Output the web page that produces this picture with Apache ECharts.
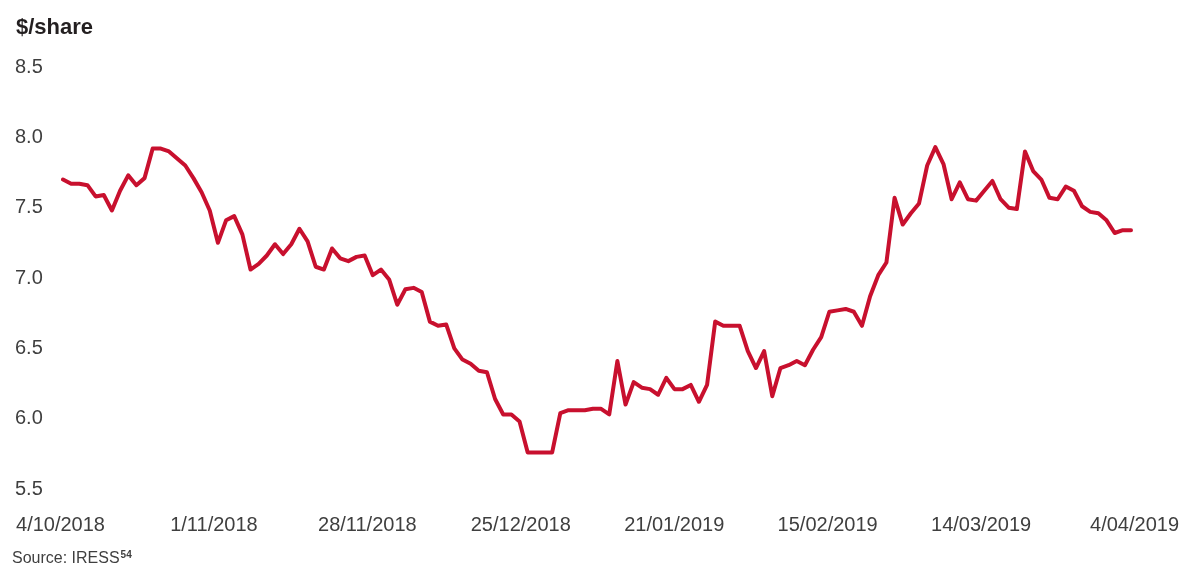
<!DOCTYPE html>
<html>
<head>
<meta charset="utf-8">
<script src="https://cdn.jsdelivr.net/npm/echarts@6/dist/echarts.min.js"></script>
<style>
html,body{margin:0;padding:0;background:#fff;}
#chart{width:1182px;height:566px;}
</style>
</head>
<body>
<div id="chart"></div>
<script>
// Trading-day index categories (one per observation)
const priceValues = [
  7.70, 7.67, 7.67, 7.66, 7.58, 7.59, 7.48, 7.62, 7.73, 7.66,
  7.71, 7.92, 7.92, 7.90, 7.85, 7.80, 7.71, 7.61, 7.48, 7.25,
  7.41, 7.44, 7.31, 7.06, 7.10, 7.16, 7.24, 7.17, 7.24, 7.35,
  7.26, 7.08, 7.06, 7.21, 7.14, 7.12, 7.15, 7.16, 7.02, 7.06,
  6.99, 6.81, 6.92, 6.93, 6.90, 6.69, 6.66, 6.67, 6.50, 6.42,
  6.39, 6.34, 6.33, 6.14, 6.03, 6.03, 5.98, 5.76, 5.76, 5.76,
  5.76, 6.04, 6.06, 6.06, 6.06, 6.07, 6.07, 6.03, 6.41, 6.10,
  6.26, 6.22, 6.21, 6.17, 6.29, 6.21, 6.21, 6.24, 6.12, 6.24,
  6.69, 6.66, 6.66, 6.66, 6.48, 6.36, 6.48, 6.16, 6.36, 6.38,
  6.41, 6.38, 6.49, 6.58, 6.76, 6.77, 6.78, 6.76, 6.66, 6.87,
  7.02, 7.11, 7.57, 7.38, 7.46, 7.53, 7.80, 7.93, 7.81, 7.56,
  7.68, 7.56, 7.55, 7.62, 7.69, 7.56, 7.50, 7.49, 7.90, 7.76,
  7.70, 7.57, 7.56, 7.65, 7.62, 7.51, 7.47, 7.46, 7.41, 7.32,
  7.34, 7.34
];
const dayIndex = priceValues.map((_, i) => String(i));
const dateTickLabels = ['4/10/2018', '1/11/2018', '28/11/2018', '25/12/2018', '21/01/2019', '15/02/2019', '14/03/2019', '4/04/2019'];
const yMin = 5.5, yMax = 8.5, yStep = 0.5;
const yAxisTitle = '$/share';
const sourceText = 'Source: IRESS';
const sourceNoteRef = '54';

const chart = echarts.init(document.getElementById('chart'), null, {renderer: 'canvas'});
const labelColor = '#3f3f3f';
const option = {
  animation: false,
  backgroundColor: '#ffffff',
  grid: [
    {left: 63, right: 51, top: 67, bottom: 77},
    {left: 60.5, right: 47, top: 67, bottom: 77}
  ],
  xAxis: [
    {
      type: 'category', gridIndex: 0, data: dayIndex, boundaryGap: false,
      axisLine: {show: false}, axisTick: {show: false}, axisLabel: {show: false}, splitLine: {show: false}
    },
    {
      type: 'category', gridIndex: 1, data: dateTickLabels, boundaryGap: false,
      axisLine: {show: false}, axisTick: {show: false}, splitLine: {show: false},
      axisLabel: {interval: 0, margin: 26, fontSize: 20, fontFamily: 'Liberation Sans, Arial, sans-serif', color: labelColor}
    }
  ],
  yAxis: [
    {
      type: 'value', gridIndex: 0, min: yMin, max: yMax, interval: yStep,
      axisLine: {show: false}, axisTick: {show: false}, splitLine: {show: false},
      axisLabel: {
        align: 'left', margin: 48, fontSize: 20, fontFamily: 'Liberation Sans, Arial, sans-serif', color: labelColor,
        formatter: v => v.toFixed(1)
      }
    },
    {type: 'value', gridIndex: 1, min: yMin, max: yMax, show: false}
  ],
  series: [{
    type: 'line', xAxisIndex: 0, yAxisIndex: 0, data: priceValues,
    showSymbol: false, symbol: 'none',
    lineStyle: {color: '#c8102e', width: 4, join: 'round', cap: 'round'}
  }],
  graphic: [
    {type: 'text', x: 16, y: 28, style: {text: yAxisTitle, fontSize: 22, fontWeight: 'bold', fontFamily: 'Liberation Sans, Arial, sans-serif', fill: '#231f20', verticalAlign: 'middle'}},
    {type: 'text', x: 12, y: 559, style: {
      text: '{n|' + sourceText + '}{s|' + sourceNoteRef + '}',
      verticalAlign: 'middle',
      rich: {
        n: {fontSize: 16, fontFamily: 'Liberation Sans, Arial, sans-serif', fill: '#3f3f3f', lineHeight: 18},
        s: {fontSize: 10, fontWeight: 'bold', fontFamily: 'Liberation Sans, Arial, sans-serif', fill: '#3f3f3f', verticalAlign: 'top', lineHeight: 12, padding: [0, 0, 0, 1]}
      }
    }}
  ]
};
chart.setOption(option);
</script>
</body>
</html>
